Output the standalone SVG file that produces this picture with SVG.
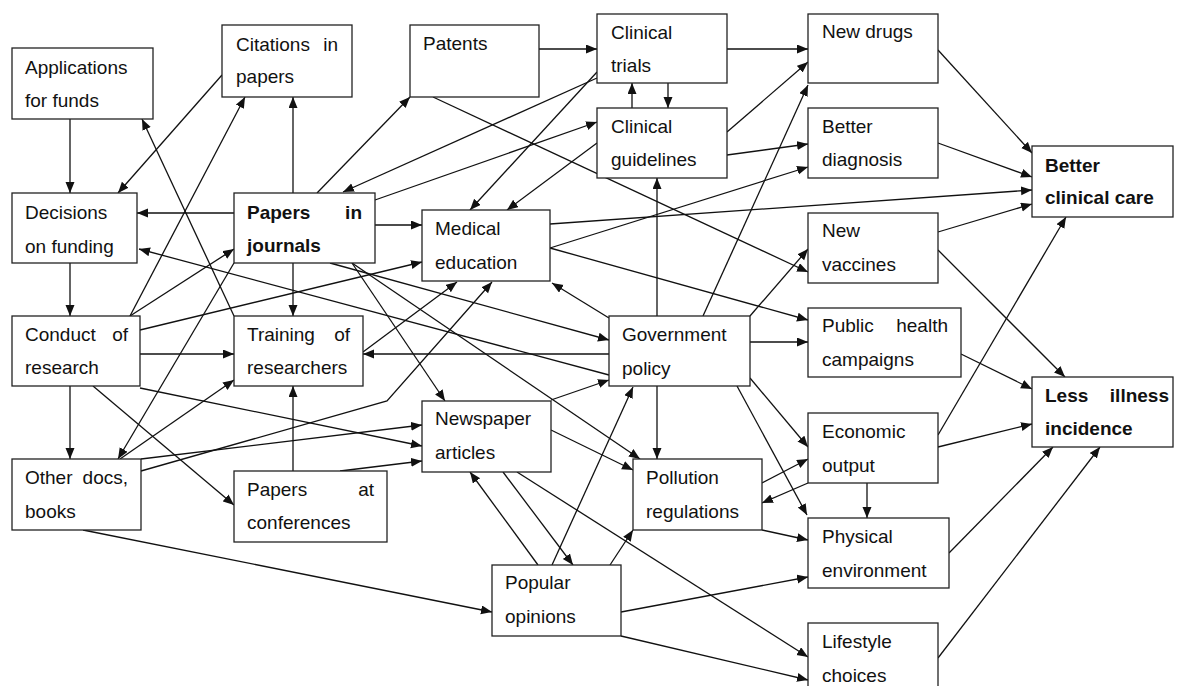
<svg xmlns="http://www.w3.org/2000/svg" width="1179" height="686" viewBox="0 0 1179 686">
<style>
.box{fill:#fff;stroke:#222;stroke-width:1.3}
.t{font-family:"Liberation Sans",Arial,sans-serif;font-size:19px;fill:#111}
.b{font-weight:bold}
.e{text-anchor:end}
.c{fill:none;stroke:#111;stroke-width:1.3;marker-end:url(#ah)}
</style>
<defs>
<marker id="ah" markerUnits="userSpaceOnUse" markerWidth="12" markerHeight="10" refX="11" refY="4.5" orient="auto">
<path d="M0,0 L11,4.5 L0,9 z" fill="#111"/>
</marker>
</defs>
<rect width="1179" height="686" fill="#fff"/>
<g id="connectors">
<path class="c" d="M70,119 L70,193"/>
<path class="c" d="M222,75 L118,193"/>
<path class="c" d="M293,193 L293,97"/>
<path class="c" d="M234,213 L137,213"/>
<path class="c" d="M234,316 L142,119"/>
<path class="c" d="M130,316 L245,97"/>
<path class="c" d="M130,316 L234,249"/>
<path class="c" d="M140,330 L422,262"/>
<path class="c" d="M140,354 L234,354"/>
<path class="c" d="M140,388 L422,446"/>
<path class="c" d="M93,386 L234,505"/>
<path class="c" d="M70,263 L70,316"/>
<path class="c" d="M70,386 L70,459"/>
<path class="c" d="M234,263 L118,459"/>
<path class="c" d="M120,459 L234,380"/>
<path class="c" d="M141,459 L422,425"/>
<path class="c" d="M141,471 L387,401 L492,282"/>
<path class="c" d="M83,530 L492,612"/>
<path class="c" d="M293,471 L293,386"/>
<path class="c" d="M293,263 L293,316"/>
<path class="c" d="M340,471 L422,461"/>
<path class="c" d="M317,193 L410,97"/>
<path class="c" d="M375,225 L422,225"/>
<path class="c" d="M597,78 L343,192"/>
<path class="c" d="M597,72 L470,210"/>
<path class="c" d="M375,200 L597,122"/>
<path class="c" d="M597,143 L507,210"/>
<path class="c" d="M433,97 L808,272"/>
<path class="c" d="M539,49 L597,49"/>
<path class="c" d="M727,49 L808,49"/>
<path class="c" d="M632,108 L632,83"/>
<path class="c" d="M668,83 L668,108"/>
<path class="c" d="M727,132 L808,62"/>
<path class="c" d="M727,155 L808,144"/>
<path class="c" d="M550,248 L808,167"/>
<path class="c" d="M550,224 L1032,190"/>
<path class="c" d="M550,248 L808,320"/>
<path class="c" d="M938,50 L1032,153"/>
<path class="c" d="M938,143 L1032,177"/>
<path class="c" d="M938,232 L1032,204"/>
<path class="c" d="M938,250 L1065,377"/>
<path class="c" d="M961,354 L1032,389"/>
<path class="c" d="M938,435 L1066,217"/>
<path class="c" d="M938,447 L1032,424"/>
<path class="c" d="M949,553 L1053,447"/>
<path class="c" d="M938,658 L1100,447"/>
<path class="c" d="M609,318 L552,283"/>
<path class="c" d="M609,354 L363,354"/>
<path class="c" d="M657,316 L657,178"/>
<path class="c" d="M703,316 L808,85"/>
<path class="c" d="M750,316 L808,249"/>
<path class="c" d="M750,342 L808,342"/>
<path class="c" d="M750,378 L808,447"/>
<path class="c" d="M737,386 L807,515"/>
<path class="c" d="M657,386 L657,459"/>
<path class="c" d="M330,263 L609,340"/>
<path class="c" d="M352,263 L640,459"/>
<path class="c" d="M352,263 L445,401"/>
<path class="c" d="M609,375 L139,249"/>
<path class="c" d="M363,352 L457,282"/>
<path class="c" d="M551,400 L609,380"/>
<path class="c" d="M551,430 L633,470"/>
<path class="c" d="M503,472 L573,565"/>
<path class="c" d="M538,565 L470,472"/>
<path class="c" d="M517,472 L808,657"/>
<path class="c" d="M552,565 L633,387"/>
<path class="c" d="M610,565 L633,530"/>
<path class="c" d="M867,483 L867,518"/>
<path class="c" d="M808,483 L762,503"/>
<path class="c" d="M762,483 L808,459"/>
<path class="c" d="M762,530 L808,540"/>
<path class="c" d="M621,612 L808,577"/>
<path class="c" d="M621,636 L808,680"/>
</g>
<g id="applications"><rect class="box" x="12" y="48" width="141" height="71"/><text class="t" x="25" y="74">Applications</text><text class="t" x="25" y="107">for funds</text></g>
<g id="citations"><rect class="box" x="222" y="25" width="130" height="72"/><text class="t" x="236" y="51">Citations</text><text class="t e" x="338" y="51">in</text><text class="t" x="236" y="83">papers</text></g>
<g id="patents"><rect class="box" x="410" y="25" width="129" height="72"/><text class="t" x="423" y="50">Patents</text></g>
<g id="trials"><rect class="box" x="597" y="14" width="130" height="69"/><text class="t" x="611" y="39">Clinical</text><text class="t" x="611" y="72">trials</text></g>
<g id="guidelines"><rect class="box" x="597" y="108" width="130" height="70"/><text class="t" x="611" y="133">Clinical</text><text class="t" x="611" y="166">guidelines</text></g>
<g id="newdrugs"><rect class="box" x="808" y="14" width="130" height="69"/><text class="t" x="822" y="38">New drugs</text></g>
<g id="diagnosis"><rect class="box" x="808" y="108" width="130" height="70"/><text class="t" x="822" y="133">Better</text><text class="t" x="822" y="166">diagnosis</text></g>
<g id="clinicalcare"><rect class="box" x="1032" y="146" width="141" height="71"/><text class="t b" x="1045" y="172">Better</text><text class="t b" x="1045" y="204">clinical care</text></g>
<g id="decisions"><rect class="box" x="12" y="193" width="125" height="70"/><text class="t" x="25" y="219">Decisions</text><text class="t" x="25" y="253">on funding</text></g>
<g id="journals"><rect class="box" x="234" y="193" width="141" height="70"/><text class="t b" x="247" y="219">Papers</text><text class="t b e" x="362" y="219">in</text><text class="t b" x="247" y="252">journals</text></g>
<g id="medical"><rect class="box" x="422" y="210" width="128" height="71"/><text class="t" x="435" y="235">Medical</text><text class="t" x="435" y="269">education</text></g>
<g id="vaccines"><rect class="box" x="808" y="213" width="130" height="70"/><text class="t" x="822" y="237">New</text><text class="t" x="822" y="271">vaccines</text></g>
<g id="conduct"><rect class="box" x="12" y="316" width="128" height="70"/><text class="t" x="25" y="341">Conduct</text><text class="t e" x="128" y="341">of</text><text class="t" x="25" y="374">research</text></g>
<g id="training"><rect class="box" x="234" y="316" width="129" height="70"/><text class="t" x="247" y="341">Training</text><text class="t e" x="350" y="341">of</text><text class="t" x="247" y="374">researchers</text></g>
<g id="government"><rect class="box" x="609" y="316" width="141" height="70"/><text class="t" x="622" y="341">Government</text><text class="t" x="622" y="375">policy</text></g>
<g id="publichealth"><rect class="box" x="808" y="308" width="153" height="69"/><text class="t" x="822" y="332">Public</text><text class="t e" x="948" y="332">health</text><text class="t" x="822" y="366">campaigns</text></g>
<g id="lessillness"><rect class="box" x="1032" y="377" width="141" height="70"/><text class="t b" x="1045" y="402">Less</text><text class="t b e" x="1169" y="402">illness</text><text class="t b" x="1045" y="435">incidence</text></g>
<g id="newspaper"><rect class="box" x="422" y="401" width="129" height="71"/><text class="t" x="435" y="425">Newspaper</text><text class="t" x="435" y="459">articles</text></g>
<g id="economic"><rect class="box" x="808" y="413" width="130" height="70"/><text class="t" x="822" y="438">Economic</text><text class="t" x="822" y="472">output</text></g>
<g id="otherdocs"><rect class="box" x="12" y="459" width="129" height="71"/><text class="t" x="25" y="484">Other</text><text class="t e" x="128" y="484">docs,</text><text class="t" x="25" y="518">books</text></g>
<g id="conferences"><rect class="box" x="234" y="471" width="153" height="71"/><text class="t" x="247" y="496">Papers</text><text class="t e" x="374" y="496">at</text><text class="t" x="247" y="529">conferences</text></g>
<g id="pollution"><rect class="box" x="633" y="459" width="129" height="71"/><text class="t" x="646" y="484">Pollution</text><text class="t" x="646" y="518">regulations</text></g>
<g id="physical"><rect class="box" x="808" y="518" width="141" height="70"/><text class="t" x="822" y="543">Physical</text><text class="t" x="822" y="577">environment</text></g>
<g id="popular"><rect class="box" x="492" y="565" width="129" height="71"/><text class="t" x="505" y="589">Popular</text><text class="t" x="505" y="623">opinions</text></g>
<g id="lifestyle"><rect class="box" x="808" y="623" width="130" height="70"/><text class="t" x="822" y="648">Lifestyle</text><text class="t" x="822" y="682">choices</text></g>
</svg>
